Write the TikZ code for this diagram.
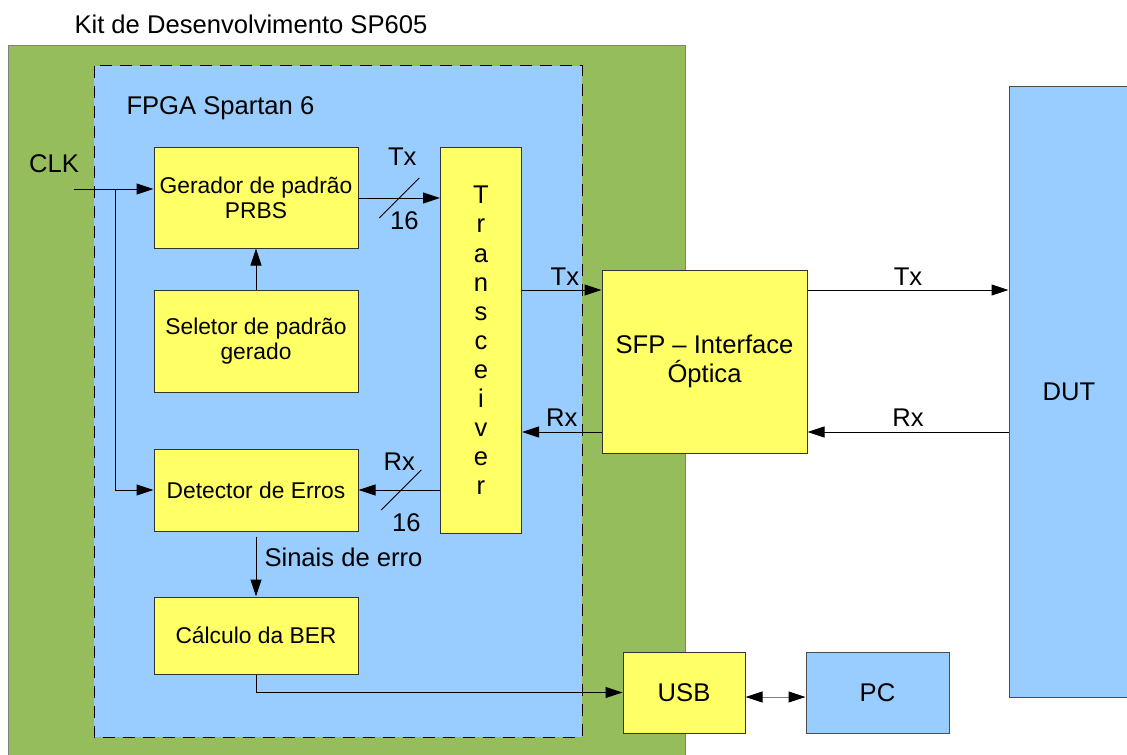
\documentclass[tikz,border=0pt]{standalone}
\usepackage{fontspec}
\setmainfont{Liberation Sans}
\usetikzlibrary{shapes,arrows.meta,positioning}
\definecolor{kitgreen}{RGB}{150,189,92}
\definecolor{fpgablue}{RGB}{153,204,255}
\definecolor{blockyellow}{RGB}{255,255,102}

\begin{document}
\begin{tikzpicture}[x=0.5pt, y=-0.5pt, line width=0.5pt,
  >={Triangle[length=8.5pt,width=5.5pt,color=black]},
  every node/.style={font=\fontsize{12.8}{14.55}\selectfont},
  block/.style={rectangle, draw=black!80, fill=blockyellow, align=center, inner sep=1pt,
    minimum width=102pt, font=\fontsize{11.4}{12.5}\selectfont},
  bigblock/.style={rectangle, draw=black!80, fill=blockyellow, align=center, inner sep=1pt},
  extblock/.style={rectangle, draw=black!70, fill=fpgablue, align=center, inner sep=1pt},
  sig/.style={inner sep=1pt}]
  \useasboundingbox (0,0) rectangle (1127,754);
  \draw[fill=kitgreen, draw=black!50] (8,46) rectangle (685,780);
  \draw[fill=fpgablue, dash pattern=on 6pt off 4pt] (94,66) rectangle (582,737);
  \node[anchor=west, inner sep=0pt] (kit) at (74,24) {Kit de Desenvolvimento SP605};
  \node[anchor=base west, inner sep=0pt] (fpga) at (126,115) {FPGA Spartan 6};

  \node[block, minimum height=50pt] (gerador) at (256,198) {Gerador de padrão\\PRBS};
  \node[block, minimum height=51pt, below=20.5pt of gerador] (seletor) {Seletor de padrão\\gerado};
  \node[block, minimum height=41pt, below=28pt of seletor] (detector) {Detector de Erros};
  \node[block, minimum height=38.5pt, below=32.5pt of detector] (calculo) {Cálculo da BER};
  \node[bigblock, minimum width=40.5pt, minimum height=193pt] (transc) at (481,340.5)
    {T\\r\\a\\n\\s\\c\\e\\i\\v\\e\\r};
  \node[bigblock, minimum width=102.5pt, minimum height=91.5pt] (sfp) at (704.5,361.5)
    {SFP – Interface\\Óptica};
  \node[bigblock, minimum width=61pt, minimum height=40.5pt] (usb) at (684,692.5) {USB};
  \node[extblock, minimum width=71.5pt, minimum height=40.5pt] (pc) at (877.5,692.5) {PC};
  \node[extblock, minimum width=60pt, minimum height=305pt] (dut) at (1069,392) {DUT};

  \node[inner sep=0pt] (clk) at (54,163.5) {CLK};
  \coordinate (clkin) at (74,189);
  \coordinate (clkfork) at (115,189);
  \coordinate (txlevel) at (0,290);
  \coordinate (rxlevel) at (0,432);
  \coordinate (pclevel) at (0,697);

  \draw[->] (clkin) -- (clkin -| gerador.west);
  \draw[->] (clkfork) |- (detector.west);
  \draw[->] (seletor) -- (gerador);
  \draw[->] (gerador.east) -- coordinate[midway] (txbus) (gerador.east -| transc.west);
  \draw (txbus) ++(-20,20) -- ++(40,-40);
  \path (txbus) ++(3,-41) node[sig] (txname) {Tx} ++(2,64) node[sig] (txwidth) {16};
  \draw[->] (transc.west |- detector.east) -- coordinate[midway] (rxbus) (detector.east);
  \draw (rxbus) ++(-18,20) -- ++(40,-40);
  \path (rxbus) ++(0,-28) node[sig] (rxname) {Rx} ++(7,61) node[sig] (rxwidth) {16};

  \draw[->] (transc.east |- txlevel) -- node[above=1pt, pos=0.54, sig] (txin) {Tx} (sfp.west |- txlevel);
  \draw[->] (sfp.east |- txlevel) -- node[above=1pt, sig] (txout) {Tx} (dut.west |- txlevel);
  \draw[->] (dut.west |- rxlevel) -- node[above=1.5pt, sig] (rxout) {Rx} (sfp.east |- rxlevel);
  \draw[->] (sfp.west |- rxlevel) -- node[above=1.5pt, sig] (rxin) {Rx} (transc.east |- rxlevel);
  \draw[->, shorten <=2.5pt] (detector) -- node[right=3pt, pos=0.4, sig] (erro) {Sinais de erro} (calculo);
  \draw[->] (calculo.south) |- (usb.west);
  \draw[<->, draw=black!50] (usb.east |- pclevel) -- (pc.west |- pclevel);
\end{tikzpicture}
\end{document}
